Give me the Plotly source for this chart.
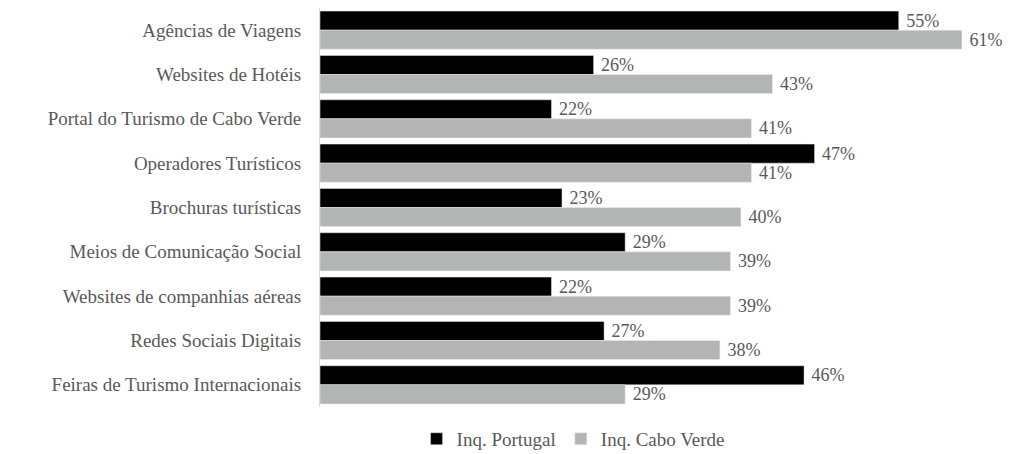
import plotly.graph_objects as go

categories = [
    "Agências de Viagens",
    "Websites de Hotéis",
    "Portal do Turismo de Cabo Verde",
    "Operadores Turísticos",
    "Brochuras turísticas",
    "Meios de Comunicação Social",
    "Websites de companhias aéreas",
    "Redes Sociais Digitais",
    "Feiras de Turismo Internacionais",
]
portugal = [55, 26, 22, 47, 23, 29, 22, 27, 46]
cabo_verde = [61, 43, 41, 41, 40, 39, 39, 38, 29]
series_names = ["Inq. Portugal", "Inq. Cabo Verde"]

FONT = "Liberation Serif"
TXT = "#595959"
SIZE = 19

fig = go.Figure()
fig.add_trace(go.Bar(
    y=categories, x=portugal, name=series_names[0], orientation="h",
    marker=dict(color="#000000"),
    texttemplate="\u00a0%{x}%", textposition="outside", constraintext="none",
    textfont=dict(family=FONT, size=18, color=TXT), cliponaxis=False,
))
fig.add_trace(go.Bar(
    y=categories, x=cabo_verde, name=series_names[1], orientation="h",
    marker=dict(color="#b3b5b5"),
    texttemplate="\u00a0%{x}%", textposition="outside", constraintext="none",
    textfont=dict(family=FONT, size=18, color=TXT), cliponaxis=False,
))

fig.update_layout(
    width=1006, height=446,
    margin=dict(l=312, r=10, t=0, b=47, autoexpand=False),
    paper_bgcolor="white", plot_bgcolor="white",
    barmode="group", bargap=0.14, bargroupgap=0,
    font=dict(family=FONT, size=SIZE, color=TXT),
    showlegend=True,
    legend=dict(orientation="h", x=0.37, xanchor="center", y=-0.08, yanchor="middle",
                font=dict(family=FONT, size=SIZE, color=TXT), itemwidth=30,
                tracegroupgap=0),
)
fig.update_xaxes(range=[0, 65], visible=False)
fig.update_yaxes(autorange="reversed", showline=True, linecolor="#d9d9d9", linewidth=1,
                 showgrid=False, ticks="", ticklabelstandoff=14,
                 tickfont=dict(family=FONT, size=SIZE, color=TXT))

fig.write_html("out.html")
